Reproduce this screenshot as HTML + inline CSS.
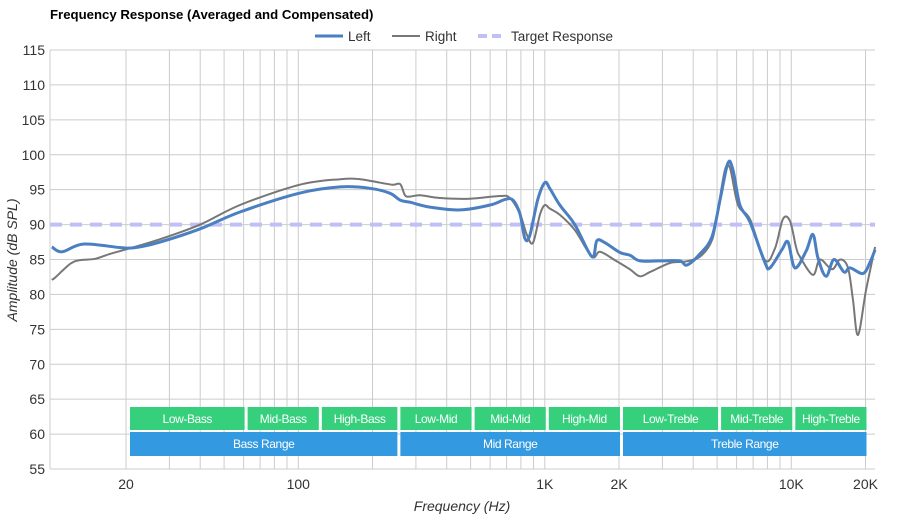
<!DOCTYPE html>
<html><head><meta charset="utf-8"><style>
body{margin:0;background:#fff;font-family:"Liberation Sans",sans-serif;}
svg text{font-family:"Liberation Sans",sans-serif;}
</style></head><body>
<svg id="chart" width="900" height="520" viewBox="0 0 900 520">
<text x="50" y="19" font-size="13.2" font-weight="bold" fill="#000">Frequency Response (Averaged and Compensated)</text>
<g>
 <g><line x1="315" y1="36" x2="343" y2="36" stroke="#4a7fc1" stroke-width="3"/><text x="348" y="41" font-size="13.5" fill="#333">Left</text></g>
 <g><line x1="392" y1="36" x2="420" y2="36" stroke="#777" stroke-width="2"/><text x="425" y="41" font-size="13.5" fill="#333">Right</text></g>
 <g><line x1="478" y1="36" x2="506" y2="36" stroke="#c0c0f8" stroke-width="4" stroke-dasharray="9,5"/><text x="511" y="41" font-size="13.5" fill="#333">Target Response</text></g>
</g>
<g id="grid"></g>
<g id="bands"></g>
<g id="series"></g>
<g id="axes"></g>
<text x="462" y="511" font-size="14" font-style="italic" text-anchor="middle" fill="#333">Frequency (Hz)</text>
<text transform="translate(17,260) rotate(-90)" font-size="14" font-style="italic" text-anchor="middle" fill="#333">Amplitude (dB SPL)</text>
</svg>
<script>
const yTicks=[55,60,65,70,75,80,85,90,95,100,105,110,115];
const xTickVals=[20,100,1000,2000,10000,20000];
const xTickLabels=["20","100","1K","2K","10K","20K"];
const target=90;
const leftFreq=[10,11,13.4,19,21.8,27.5,40,58,101,148,195,235,259,284,342,453,600,690,743,793,831,870,937,1000,1047,1150,1324,1552,1627,1754,2018,2217,2433,2930,3530,3770,4260,4760,5140,5530,5800,6190,6790,7810,8190,9160,9700,10340,11480,12240,12830,13830,14900,16370,17310,19540,20860,21870];
const leftDb=[86.8,86.1,87.2,86.7,86.7,87.5,89.4,91.8,94.5,95.4,95.2,94.5,93.5,93.2,92.5,92.1,92.8,93.6,93.5,91.5,88,88.5,93.6,96,95.2,92.8,90,85.4,87.7,87.4,86,85.6,84.8,84.8,84.8,84.2,85.8,88.2,93.5,98.8,97.8,92.8,90.4,84.6,83.8,86.4,87.5,83.8,86.2,88.6,85.2,82.6,85,83.2,83.8,83,84.6,86.4];
const rightFreq=[10,10.3,11.9,13,15,17.2,19.8,27.5,40,58,101,148,178,215,242,259,271,284,312,376,497,658,722,793,847,896,957,1000,1047,1150,1325,1553,1675,1927,2215,2430,2670,3220,3700,4260,4770,5040,5380,5640,6080,6790,7820,8590,9250,9880,10450,10840,12240,13070,14630,15770,16990,17790,18650,20100,21870];
const rightDb=[82.1,82.4,84.4,84.9,85.1,85.8,86.4,87.9,90.0,92.8,95.7,96.5,96.5,96,95.7,95.8,94.2,94,94.2,93.8,93.7,94.1,93.8,91.5,88.5,87.4,91.5,92.8,92.3,91.4,89.2,85.4,86.1,84.9,83.6,82.6,83.2,84.5,84.7,85.4,87.8,92.1,97.8,98.1,92.8,90.8,84.9,86.6,90.8,90.5,86.8,85.4,82.8,85,83.6,85,83.8,79.2,74.2,80.6,86.8];
const bandNames=["Low-Bass","Mid-Bass","High-Bass","Low-Mid","Mid-Mid","High-Mid","Low-Treble","Mid-Treble","High-Treble"];
const bandEdges=[20,60,120,250,500,1000,2000,5000,10000,20000];
const rangeNames=["Bass Range","Mid Range","Treble Range"];
const rangeEdges=[20,250,2000,20000];

const NS="http://www.w3.org/2000/svg";
const X0=50,X1=875,Y0=50,Y1=469;
function xs(f){return 126+(Math.log10(f)-Math.log10(20))*246.5;}
function ys(d){return Y1-(d-55)*(Y1-Y0)/60;}
function mk(tag,attrs,parent){const e=document.createElementNS(NS,tag);for(const k in attrs)e.setAttribute(k,attrs[k]);parent.appendChild(e);return e;}
const grid=document.getElementById('grid'),axes=document.getElementById('axes'),bands=document.getElementById('bands'),series=document.getElementById('series');
yTicks.forEach(v=>{
 const l=mk('line',{x1:X0,x2:X1,y1:ys(v),y2:ys(v),stroke:'#ccc','stroke-width':1},grid);
 
 
 const t=mk('text',{x:45,y:ys(v)+5,'font-size':14,'text-anchor':'end',fill:'#333'},axes);
 t.textContent=v;
 
 
});
const minor=[];
[10,100,1000].forEach(d=>{for(let m=1;m<10;m++){const f=m*d;if(f>=20&&f<=20000)minor.push(f);}});
minor.push(10000,20000);
[X0].concat(minor.map(xs)).forEach(x=>{
 const l=mk('line',{x1:x,x2:x,y1:Y0,y2:Y1,stroke:'#ccc','stroke-width':1},grid);
 
 
});
xTickVals.forEach((v,i)=>{
 const t=mk('text',{x:xs(v),y:489,'font-size':14,'text-anchor':'middle',fill:'#333'},axes);
 t.textContent=xTickLabels[i];
 
 
});
bandNames.forEach((n,i)=>{
 const a=xs(bandEdges[i])+4,b=xs(bandEdges[i+1])+1;
 const r=mk('rect',{x:a,y:407,width:b-a,height:23,fill:'#36d07d'},bands);
 
 
 const t=mk('text',{x:(a+b)/2,y:423,'font-size':12,'text-anchor':'middle',fill:'#fff','letter-spacing':'-0.4'},bands);
 t.textContent=n;
 
 
});
rangeNames.forEach((n,i)=>{
 const a=xs(rangeEdges[i])+4,b=xs(rangeEdges[i+1])+1;
 const r=mk('rect',{x:a,y:432,width:b-a,height:24,fill:'#3399e0'},bands);
 
 
 const t=mk('text',{x:(a+b)/2,y:448,'font-size':12,'text-anchor':'middle',fill:'#fff','letter-spacing':'-0.4'},bands);
 t.textContent=n;
 
 
});
function pathOf(fr,db){
 const p=fr.map((f,i)=>[xs(f),ys(db[i])]);
 let d='M'+p[0][0].toFixed(1)+','+p[0][1].toFixed(1);
 for(let i=0;i<p.length-1;i++){
  const p0=p[Math.max(0,i-1)],p1=p[i],p2=p[i+1],p3=p[Math.min(p.length-1,i+2)];
  const c1=[p1[0]+(p2[0]-p0[0])/6,p1[1]+(p2[1]-p0[1])/6],c2=[p2[0]-(p3[0]-p1[0])/6,p2[1]-(p3[1]-p1[1])/6];
  d+=' C'+c1.map(v=>v.toFixed(1))+' '+c2.map(v=>v.toFixed(1))+' '+p2.map(v=>v.toFixed(1));
 }
 return d;
}
const tl=mk('line',{x1:X0,x2:X1,y1:ys(target),y2:ys(target),stroke:'#c0c0f8','stroke-width':4,'stroke-dasharray':'12,8'},series);


const rp=mk('path',{d:pathOf(rightFreq,rightDb),fill:'none',stroke:'#777','stroke-width':2},series);


const lp=mk('path',{d:pathOf(leftFreq,leftDb),fill:'none',stroke:'#4a7fc1','stroke-width':3},series);


</script>
</body></html>
